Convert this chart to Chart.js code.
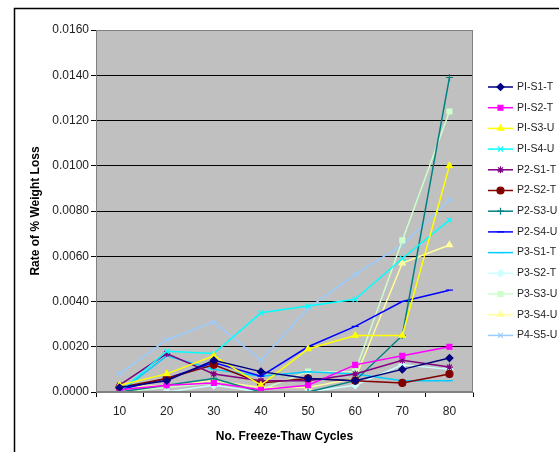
<!DOCTYPE html>
<html>
<head>
<meta charset="utf-8">
<script src="https://cdn.jsdelivr.net/npm/chart.js@4/dist/chart.umd.min.js"></script>
<style>
  html, body { margin: 0; padding: 0; background: #ffffff; }
  #wrap { position: relative; width: 559px; height: 452px; }
</style>
</head>
<body>
<div id="wrap"><canvas id="c" width="559" height="452"></canvas></div>
<script>
const cycles = ['10', '20', '30', '40', '50', '60', '70', '80'];
const yTicks = [0, 0.002, 0.004, 0.006, 0.008, 0.010, 0.012, 0.014, 0.016];

const PI_S1_T = [0.0002, 0.0005, 0.0014, 0.0009, 0.0006, 0.0005, 0.0010, 0.0015];
const PI_S2_T = [0.0001, 0.0003, 0.0004, 0.0001, 0.0003, 0.0012, 0.0016, 0.0020];
const PI_S3_U = [0.0003, 0.0008, 0.0016, 0.0003, 0.0019, 0.0025, 0.0025, 0.0100];
const PI_S4_U = [0.0000, 0.0018, 0.0017, 0.0035, 0.0038, 0.0041, 0.0059, 0.0076];
const P2_S1_T = [0.0003, 0.0017, 0.0008, 0.0005, 0.0005, 0.0008, 0.0014, 0.0011];
const P2_S2_T = [0.0002, 0.0006, 0.0012, 0.0004, 0.0006, 0.0005, 0.0004, 0.0008];
const P2_S3_U = [0.0000, 0.0003, 0.0006, 0.0000, 0.0000, 0.0005, 0.0025, 0.0139];
const P2_S4_U = [0.0001, 0.0006, 0.0013, 0.0007, 0.0020, 0.0029, 0.0040, 0.0045];
const P3_S1_T = [0.0000, 0.0016, 0.0010, 0.0007, 0.0009, 0.0008, 0.0005, 0.0005];
const P3_S2_T = [0.0000, 0.0000, 0.0003, 0.0000, 0.0000, 0.0003, 0.0012, 0.0010];
const P3_S3_U = [0.0000, 0.0002, 0.0004, 0.0001, 0.0009, 0.0009, 0.0067, 0.0124];
const P3_S4_U = [0.0002, 0.0003, 0.0005, 0.0002, 0.0002, 0.0006, 0.0057, 0.0065];
const P4_S5_U = [0.0008, 0.0023, 0.0031, 0.0014, 0.0037, 0.0052, 0.0065, 0.0085];

const seriesNames = ['PI-S1-T','PI-S2-T','PI-S3-U','PI-S4-U','P2-S1-T','P2-S2-T','P2-S3-U','P2-S4-U','P3-S1-T','P3-S2-T','P3-S3-U','P3-S4-U','P4-S5-U'];
const seriesData = [PI_S1_T, PI_S2_T, PI_S3_U, PI_S4_U, P2_S1_T, P2_S2_T, P2_S3_U, P2_S4_U, P3_S1_T, P3_S2_T, P3_S3_U, P3_S4_U, P4_S5_U];
const seriesColors = ['#000080','#FF00FF','#FFFF00','#00FFFF','#800080','#800000','#008080','#0000FF','#00CCFF','#CCFFFF','#CCFFCC','#FFFF99','#99CCFF'];
const seriesMarkers = ['rectRot','rect','triangle','crossRot','star','circle','cross','line','line','rectRot','rect','triangle','crossRot'];

const datasets = seriesNames.map((n, i) => ({
  label: n,
  data: seriesData[i],
  borderColor: seriesColors[i],
  backgroundColor: seriesColors[i],
  pointBackgroundColor: seriesColors[i],
  pointBorderColor: seriesColors[i],
  pointStyle: seriesMarkers[i],
  pointRadius: 3.5,
  pointBorderWidth: 1.2,
  borderWidth: 1.5,
  tension: 0,
  fill: false
}));

const FONT = "'Liberation Sans', Arial, sans-serif";

const plotBg = {
  id: 'plotBg',
  beforeDraw(chart) {
    const ctx = chart.ctx, a = chart.chartArea;
    ctx.save();
    ctx.fillStyle = '#ffffff';
    ctx.fillRect(0, 0, chart.width, chart.height);
    ctx.fillStyle = '#C0C0C0';
    ctx.fillRect(a.left, a.top, a.right - a.left, a.bottom - a.top);
    ctx.strokeStyle = '#000000';
    ctx.lineWidth = 1.5;
    ctx.beginPath();
    ctx.moveTo(14.5, chart.height + 5);
    ctx.lineTo(14.5, 8.5);
    ctx.lineTo(chart.width + 5, 8.5);
    ctx.stroke();
    ctx.restore();
  },
  afterDatasetsDraw(chart) {
    const ctx = chart.ctx, a = chart.chartArea;
    ctx.save();
    ctx.strokeStyle = '#808080';
    ctx.lineWidth = 1;
    ctx.strokeRect(a.left + 0.5, a.top + 0.5, a.right - a.left - 1, a.bottom - a.top - 1);
    ctx.restore();
  }
};

const customLegend = {
  id: 'customLegend',
  afterDraw(chart) {
    const ctx = chart.ctx;
    const x0 = 488, x1 = 513, tx = 517, y0 = 87, dy = 20.7;
    ctx.save();
    chart.data.datasets.forEach((ds, i) => {
      const y = y0 + i * dy;
      ctx.strokeStyle = ds.borderColor;
      ctx.lineWidth = 1.5;
      ctx.beginPath();
      ctx.moveTo(x0, y);
      ctx.lineTo(x1, y);
      ctx.stroke();
      ctx.fillStyle = ds.pointBackgroundColor;
      ctx.strokeStyle = ds.pointBorderColor;
      ctx.lineWidth = 1.2;
      Chart.helpers.drawPoint(ctx, { pointStyle: ds.pointStyle, radius: 3.5, rotation: 0, borderWidth: 1.2 }, (x0 + x1) / 2, y);
      ctx.fillStyle = '#222222';
      ctx.font = '10.5px ' + FONT;
      ctx.textBaseline = 'middle';
      ctx.textAlign = 'left';
      ctx.fillText(ds.label, tx, y);
    });
    ctx.restore();
  }
};

new Chart(document.getElementById('c'), {
  type: 'line',
  data: { labels: cycles, datasets },
  options: {
    responsive: false,
    animation: false,
    devicePixelRatio: 1,
    layout: { padding: { left: 24, right: 86, top: 30, bottom: 0 } },
    plugins: { legend: { display: false }, tooltip: { enabled: false } },
    scales: {
      x: {
        type: 'category',
        offset: true,
        grid: { offset: true, drawOnChartArea: false, drawTicks: true, tickLength: 5, color: '#000000' },
        border: { display: true, color: '#808080' },
        ticks: { color: '#222222', font: { family: FONT, size: 12 }, padding: 7, maxRotation: 0 },
        title: { display: true, text: 'No. Freeze-Thaw Cycles', color: '#000000', font: { family: FONT, size: 12, weight: 'bold' }, padding: { top: 4, bottom: 8 } },
        afterFit(s) { s.height = 60; }
      },
      y: {
        min: 0, max: 0.016,
        afterBuildTicks(s) { s.ticks = yTicks.map(v => ({ value: v })); },
        grid: { color: '#000000', lineWidth: 1, drawTicks: true, tickLength: 5 },
        border: { display: true, color: '#808080' },
        ticks: { color: '#222222', font: { family: FONT, size: 12 }, padding: 2, callback: v => Number(v).toFixed(4) },
        title: { display: true, text: 'Rate of % Weight Loss', color: '#000000', font: { family: FONT, size: 12, weight: 'bold' }, padding: { top: 4, bottom: 4 } },
        afterFit(s) { s.width = 72; }
      }
    }
  },
  plugins: [plotBg, customLegend]
});
</script>
</body>
</html>
